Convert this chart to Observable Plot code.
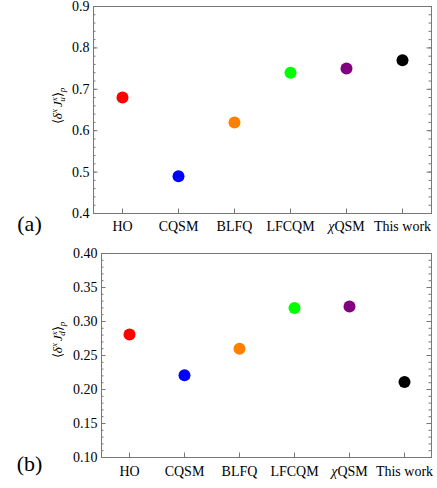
<!DOCTYPE html>
<html><head><meta charset="utf-8">
<script src="https://cdn.jsdelivr.net/npm/d3@7"></script>
<script src="https://cdn.jsdelivr.net/npm/@observablehq/plot@0.6"></script>
<style>body{margin:0;background:#fff} #chart svg{display:block}</style>
</head><body><div id="chart"></div>
<script>
const models = ["HO", "CQSM", "BLFQ", "LFCQM", "χQSM", "This work"];
const colors = ["#ff0000", "#0000ff", "#ff8000", "#00ff00", "#800080", "#000000"];
const valuesU = [0.68, 0.49, 0.62, 0.74, 0.75, 0.77];
const valuesD = [0.281, 0.221, 0.26, 0.32, 0.322, 0.211];
const ticksU = [0.4, 0.5, 0.6, 0.7, 0.8, 0.9];
const ticksD = [0.10, 0.15, 0.20, 0.25, 0.30, 0.35, 0.40];
const minorU = d3.range(0.42, 0.9, 0.02);
const minorD = d3.range(0.11, 0.40, 0.01);

const GRAY = "#777";
const FONT = "'Liberation Serif', 'Times New Roman', serif";

function panel({values, ticks, minor, fmt, height, mt, mb, ml, tag, tagDx, tagDy, xPad, sub, labelX, labelY}) {
  const W = 437, mr = 6;
  const pw = W - ml - mr, ph = height - mt - mb;
  const data = models.map((m, i) => ({model: m, value: values[i], color: colors[i]}));
  const svg = Plot.plot({
    width: W, height,
    marginLeft: ml, marginRight: mr, marginTop: mt, marginBottom: mb,
    style: {fontFamily: FONT, fontSize: "14px", color: "#000", background: "#fff"},
    x: {type: "point", domain: models, padding: 0.5},
    y: {domain: [ticks[0], ticks[ticks.length - 1]]},
    color: {type: "identity"},
    marks: [
      Plot.tickY(minor, {y: d => d, insetRight: pw - 2.5, stroke: GRAY}),
      Plot.tickY(minor, {y: d => d, insetLeft: pw - 2.5, stroke: GRAY}),
      Plot.tickY(ticks, {y: d => d, insetRight: pw - 4.5, stroke: GRAY}),
      Plot.tickY(ticks, {y: d => d, insetLeft: pw - 4.5, stroke: GRAY}),
      Plot.tickX(models, {x: d => d, insetTop: ph - 4.5, stroke: GRAY}),
      Plot.frame({stroke: GRAY}),
      Plot.axisY(ticks, {tickSize: 0, tickPadding: 4, tickFormat: fmt, label: null, fontSize: 14}),
      Plot.axisX({tickSize: 0, tickPadding: xPad, label: null, fontSize: 14}),
      Plot.dot(data, {x: "model", y: "value", fill: "color", r: 6}),
      Plot.text([tag], {text: d => d, frameAnchor: "bottom-left", dx: tagDx, dy: tagDy, fontSize: 22, textAnchor: "middle"})
    ]
  });
  const s = d3.select(svg);
  // italic chi in tick label
  s.selectAll("text").filter(function() { return this.textContent === "χQSM"; }).each(function() {
    const t = d3.select(this);
    t.text(null);
    t.append("tspan").attr("font-style", "italic").text("χ");
    t.append("tspan").text("QSM");
  });
  // y-axis label ⟨δ^x J^x_q⟩_p
  const lab = s.append("text")
    .attr("transform", `translate(${labelX},${labelY}) rotate(-90)`)
    .attr("text-anchor", "middle")
    .attr("font-family", FONT)
    .attr("font-size", 13)
    .attr("fill", "#000");
  lab.append("tspan").text("⟨");
  lab.append("tspan").attr("font-style", "italic").text("δ");
  lab.append("tspan").attr("font-style", "italic").attr("font-size", 9).attr("dy", -5).text("x");
  lab.append("tspan").attr("font-style", "italic").attr("dy", 5).attr("dx", 2).text("J");
  lab.append("tspan").attr("font-style", "italic").attr("font-size", 9).attr("dy", -5).text("x");
  lab.append("tspan").attr("font-style", "italic").attr("font-size", 9).attr("dy", 8).attr("dx", -4.5).text(sub);
  lab.append("tspan").attr("dy", -3).text("⟩");
  lab.append("tspan").attr("font-style", "italic").attr("font-size", 9).attr("dy", 3).text("p");
  return svg;
}

const chart = document.getElementById("chart");
chart.append(panel({values: valuesU, ticks: ticksU, minor: minorU, fmt: ".1f",
  height: 240, mt: 6, mb: 27, ml: 93, tag: "(a)", tagDx: -64, tagDy: 17, xPad: 8,
  sub: "u", labelX: 62, labelY: 106}));
chart.append(panel({values: valuesD, ticks: ticksD, minor: minorD, fmt: ".2f",
  height: 248, mt: 13, mb: 31, ml: 101, tag: "(b)", tagDx: -72, tagDy: 13, xPad: 9,
  sub: "d", labelX: 62, labelY: 100}));
</script>
</body></html>
